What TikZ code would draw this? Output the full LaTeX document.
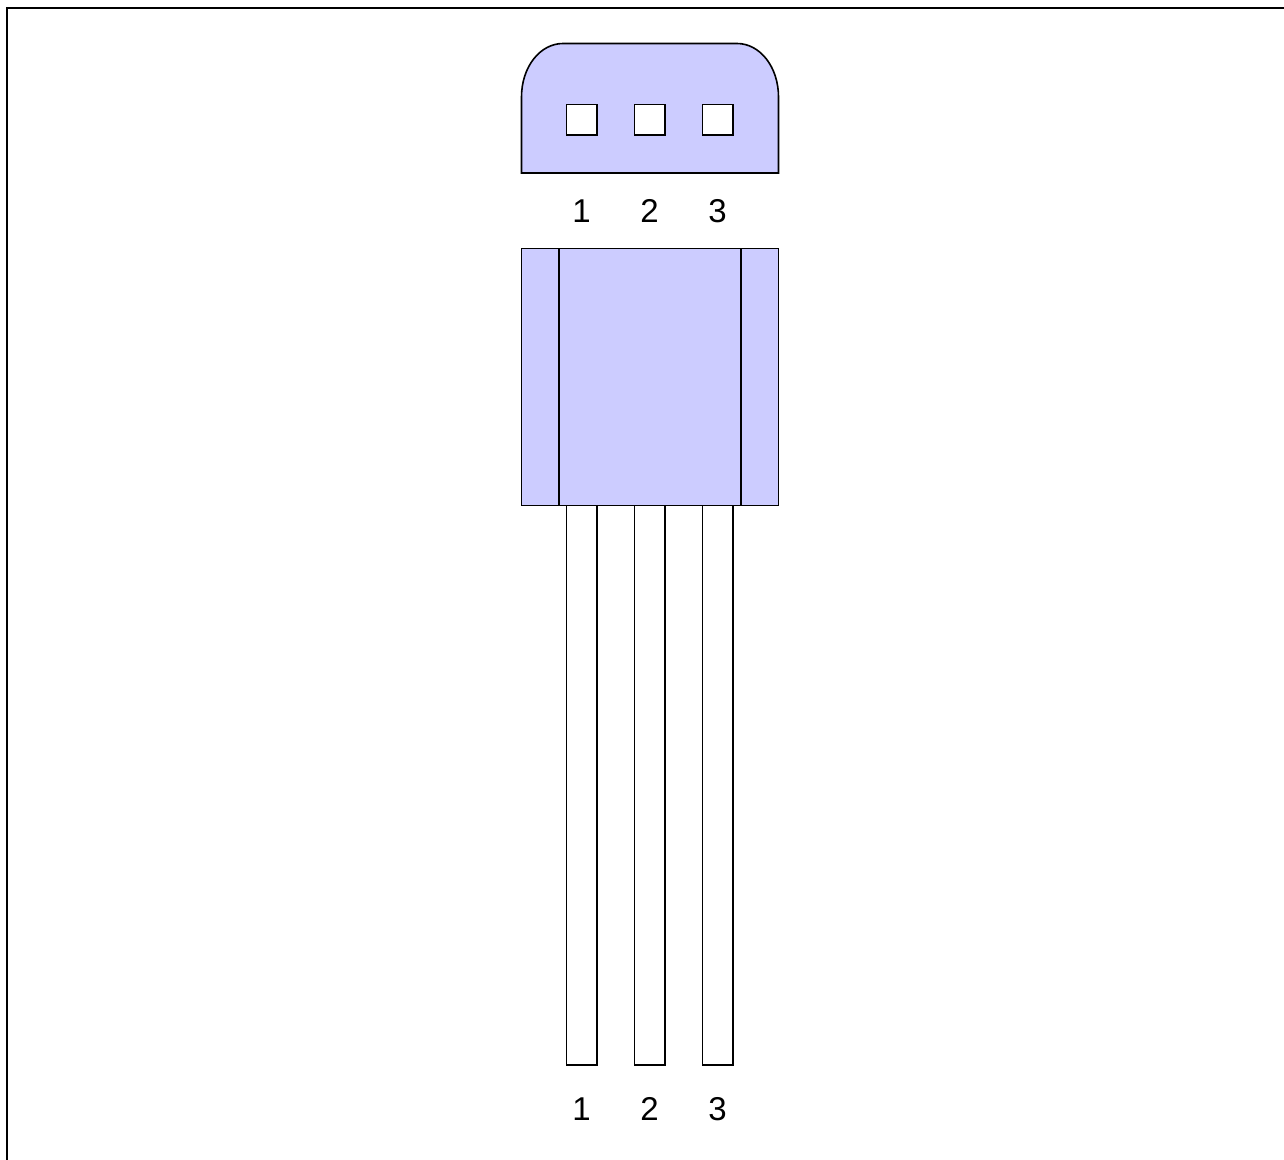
\documentclass[tikz,border=0pt]{standalone}
\usepackage{fontspec}
\setmainfont{Liberation Sans}
\definecolor{bodyfill}{HTML}{CCCCFF}
\tikzset{
  outline/.style={draw=black,line width=0.8pt,line join=miter},
  bodyshape/.style={outline,fill=bodyfill},
  pinshape/.style={outline,fill=white},
  pinlabel/.style={font=\fontsize{16.5pt}{20pt}\selectfont,text=black,inner sep=0pt,anchor=base}
}
\begin{document}
\begin{tikzpicture}[x=0.5pt,y=-0.5pt]
\useasboundingbox (0,0) rectangle (1284,1160);
% frame: only top and left edges fall inside the page
\draw[black,line width=1pt] (7,1170) -- (7,8) -- (1294,8);
% end view
\draw[bodyshape] (521.5,173) -- (521.5,97) .. controls (521.5,67) and (540,43.5) .. (563,43.5)
  -- (737,43.5) .. controls (760,43.5) and (778.5,67) .. (778.5,97) -- (778.5,173) -- cycle;
\draw[pinshape] (566.5,104.5) rectangle (597,135);
\draw[pinshape] (634.5,104.5) rectangle (665,135);
\draw[pinshape] (702.5,104.5) rectangle (733,135);
\node[pinlabel] (t1) at (581.5,222.5) {1};
\node[pinlabel] (t2) at (649.5,222.5) {2};
\node[pinlabel] (t3) at (717.5,222.5) {3};
% leads
\draw[pinshape] (566.5,505.5) rectangle (597,1065);
\draw[pinshape] (634.5,505.5) rectangle (665,1065);
\draw[pinshape] (702.5,505.5) rectangle (733,1065);
% body
\draw[bodyshape] (521.5,248.5) rectangle (778.5,505.5);
\draw[outline] (559,248.5) -- (559,505.5);
\draw[outline] (741,248.5) -- (741,505.5);
\node[pinlabel] (b1) at (581.5,1120.5) {1};
\node[pinlabel] (b2) at (649.5,1120.5) {2};
\node[pinlabel] (b3) at (717.5,1120.5) {3};
\end{tikzpicture}
\end{document}
